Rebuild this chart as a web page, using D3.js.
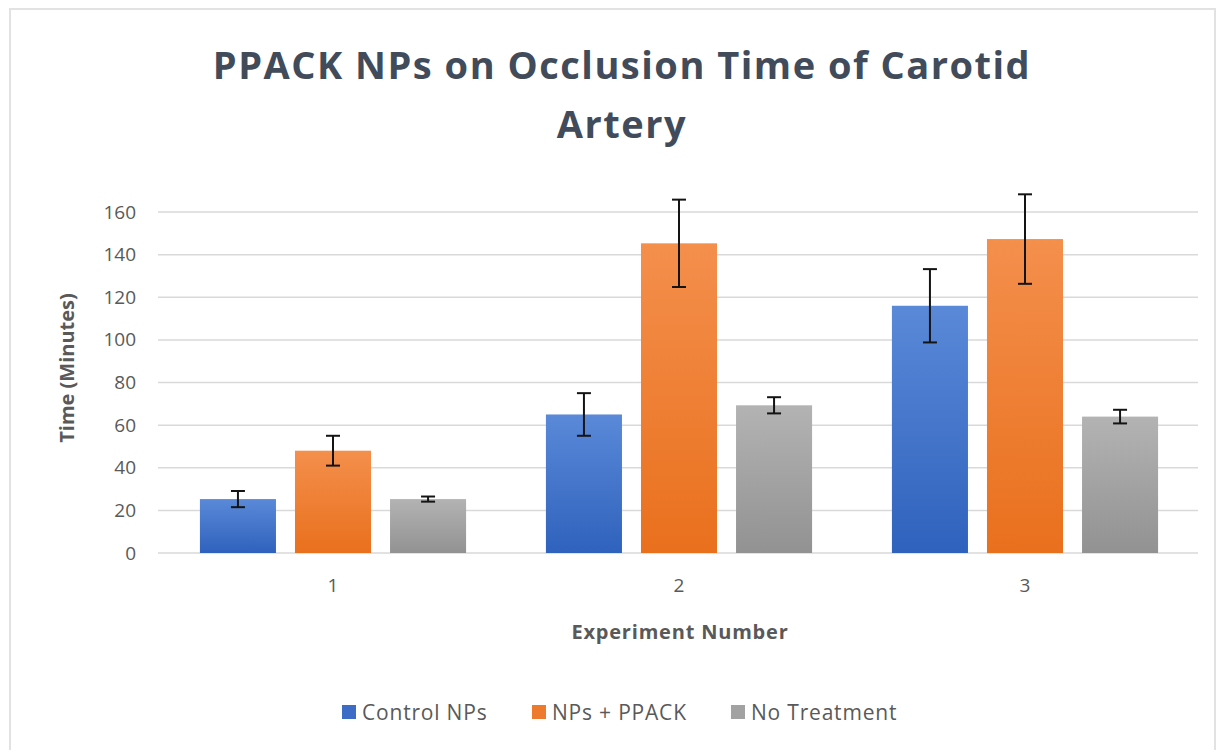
<!DOCTYPE html>
<html>
<head>
<meta charset="utf-8">
<script src="https://d3js.org/d3.v7.min.js"></script>
<style>
  body { margin: 0; background: #fff; }
  text { font-family: "Open Sans", "Noto Sans", sans-serif; }
</style>
</head>
<body>
<svg width="1221" height="750"></svg>
<script>
// chart data
var experiments = ['1', '2', '3'];
var seriesNames = ['Control NPs', 'NPs + PPACK', 'No Treatment'];
var controlNPs = [25.3, 65, 116];
var npsPPACK = [48, 145.3, 147.3];
var noTreatment = [25.3, 69.3, 64];
var controlErr = [3.8, 10, 17.2];
var ppackErr = [7, 20.5, 21];
var noTreatErr = [1.2, 3.8, 3.2];
var yTicks = [0, 20, 40, 60, 80, 100, 120, 140, 160];

var values = [controlNPs, npsPPACK, noTreatment];
var errors = [controlErr, ppackErr, noTreatErr];
var colors = [
  ['#5a89d8', '#2f62bd'],
  ['#f48f4c', '#e9701d'],
  ['#b3b3b3', '#929292']
];
var legendColors = ['#3d6cc6', '#ee7a2e', '#a2a2a2'];

var svg = d3.select('svg');

// light chart frame
svg.append('rect')
  .attr('x', 10).attr('y', 9)
  .attr('width', 1205).attr('height', 760)
  .attr('fill', '#fff')
  .attr('stroke', '#e2e2e2')
  .attr('stroke-width', 2);

// gradients for the bars
var defs = svg.append('defs');
colors.forEach(function(c, i) {
  var g = defs.append('linearGradient')
    .attr('id', 'grad' + i)
    .attr('x1', 0).attr('y1', 0).attr('x2', 0).attr('y2', 1);
  g.append('stop').attr('offset', '0%').attr('stop-color', c[0]);
  g.append('stop').attr('offset', '100%').attr('stop-color', c[1]);
});

var x0 = d3.scaleBand()
  .domain(experiments)
  .range([160, 1198]);

var x1 = d3.scaleBand()
  .domain(d3.range(seriesNames.length))
  .range([0, x0.bandwidth()])
  .paddingInner(0.2)
  .paddingOuter(0.42);

var y = d3.scaleLinear()
  .domain([0, 160])
  .range([553, 212]);

// gridlines
svg.append('g')
  .selectAll('line')
  .data(yTicks)
  .enter().append('line')
  .attr('x1', 158).attr('x2', 1198)
  .attr('y1', function(d) { return y(d); })
  .attr('y2', function(d) { return y(d); })
  .attr('stroke', '#d9d9d9')
  .attr('stroke-width', 1.5);

// y axis labels
var yAxis = svg.append('g')
  .attr('transform', 'translate(136,0)')
  .call(d3.axisLeft(y).tickValues(yTicks).tickSize(0).tickPadding(0));
yAxis.select('.domain').remove();
yAxis.selectAll('text')
  .attr('fill', '#595959')
  .style('font-size', '19px');

// x axis labels
var xAxis = svg.append('g')
  .attr('transform', 'translate(0,578)')
  .call(d3.axisBottom(x0).tickSize(0).tickPadding(0));
xAxis.select('.domain').remove();
xAxis.selectAll('text')
  .attr('fill', '#595959')
  .style('font-size', '19px');

// bars
var groups = svg.append('g')
  .selectAll('g')
  .data(experiments)
  .enter().append('g')
  .attr('transform', function(d) { return 'translate(' + x0(d) + ',0)'; });

groups.selectAll('rect')
  .data(function(d, i) {
    return values.map(function(v, s) { return { s: s, v: v[i], e: errors[s][i] }; });
  })
  .enter().append('rect')
  .attr('x', function(d) { return x1(d.s); })
  .attr('y', function(d) { return y(d.v); })
  .attr('width', x1.bandwidth())
  .attr('height', function(d) { return y(0) - y(d.v); })
  .attr('fill', function(d) { return 'url(#grad' + d.s + ')'; });

// error bars
var errG = groups.selectAll('g.err')
  .data(function(d, i) {
    return values.map(function(v, s) { return { s: s, v: v[i], e: errors[s][i] }; });
  })
  .enter().append('g')
  .attr('class', 'err')
  .attr('stroke', '#141414')
  .attr('stroke-width', 2);

errG.append('line')
  .attr('x1', function(d) { return x1(d.s) + x1.bandwidth() / 2; })
  .attr('x2', function(d) { return x1(d.s) + x1.bandwidth() / 2; })
  .attr('y1', function(d) { return y(d.v + d.e); })
  .attr('y2', function(d) { return y(d.v - d.e); });

[1, -1].forEach(function(sign) {
  errG.append('line')
    .attr('x1', function(d) { return x1(d.s) + x1.bandwidth() / 2 - 7; })
    .attr('x2', function(d) { return x1(d.s) + x1.bandwidth() / 2 + 7; })
    .attr('y1', function(d) { return y(d.v + sign * d.e); })
    .attr('y2', function(d) { return y(d.v + sign * d.e); });
});

// title
svg.append('text')
  .attr('x', 622).attr('y', 79)
  .attr('text-anchor', 'middle')
  .attr('fill', '#414b5a')
  .style('font-size', '38px')
  .style('font-weight', 'bold')
  .style('letter-spacing', '1.5px')
  .text('PPACK NPs on Occlusion Time of Carotid');
svg.append('text')
  .attr('x', 622).attr('y', 138)
  .attr('text-anchor', 'middle')
  .attr('fill', '#414b5a')
  .style('font-size', '38px')
  .style('font-weight', 'bold')
  .style('letter-spacing', '1.5px')
  .text('Artery');

// axis titles
svg.append('text')
  .attr('transform', 'translate(74,368) rotate(-90)')
  .attr('text-anchor', 'middle')
  .attr('fill', '#595959')
  .style('font-size', '20px')
  .style('font-weight', 'bold')
  .text('Time (Minutes)');

svg.append('text')
  .attr('x', 680).attr('y', 639)
  .attr('text-anchor', 'middle')
  .attr('fill', '#595959')
  .style('font-size', '20px')
  .style('font-weight', 'bold')
  .style('letter-spacing', '0.8px')
  .text('Experiment Number');

// legend
var legendX = [342, 532, 731];
var legend = svg.append('g')
  .selectAll('g')
  .data(seriesNames)
  .enter().append('g')
  .attr('transform', function(d, i) { return 'translate(' + legendX[i] + ',705)'; });

legend.append('rect')
  .attr('width', 14).attr('height', 14)
  .attr('fill', function(d, i) { return legendColors[i]; });

legend.append('text')
  .attr('x', 20).attr('y', 15)
  .attr('fill', '#595959')
  .style('font-size', '21px')
  .style('letter-spacing', '0.8px')
  .text(function(d) { return d; });
</script>
</body>
</html>
